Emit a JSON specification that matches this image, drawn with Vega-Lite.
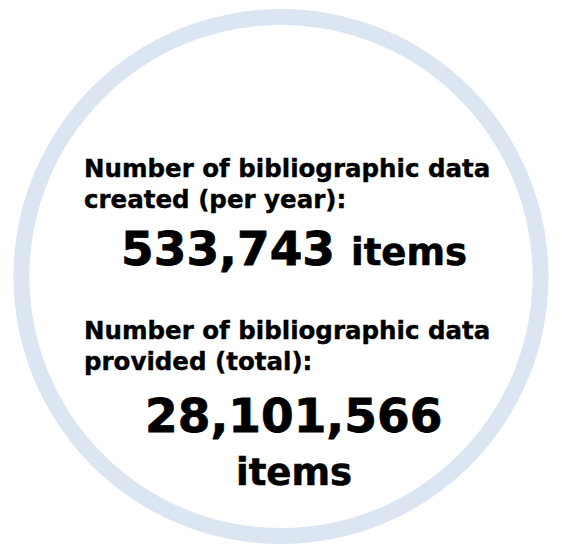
{
  "$schema": "https://vega.github.io/schema/vega-lite/v6.json",
  "width": 562,
  "height": 545,
  "autosize": {"type": "fit", "contains": "padding"},
  "padding": {"top": 8, "bottom": 0, "left": 0, "right": 0},
  "background": "white",
  "config": {"view": {"stroke": null}, "scale": {"pointPadding": 0}},
  "data": {
    "values": [
      {"metric": "created", "label": "Number of bibliographic data\ncreated (per year):", "value": 533743, "unit": "items"},
      {"metric": "provided", "label": "Number of bibliographic data\nprovided (total):", "value": 28101566, "unit": "items"}
    ]
  },
  "layer": [
    {
      "transform": [{"filter": "datum.metric === 'created'"}],
      "mark": {"type": "arc", "radius": 267.5, "radius2": 251.5, "color": "#dce6f2"},
      "encoding": {"theta": {"datum": 1, "type": "quantitative", "scale": {"domain": [0, 1]}}}
    },
    {
      "mark": {"type": "text", "font": "DejaVu Sans", "fontWeight": "bold", "fontSize": 24.5, "align": "left", "baseline": "alphabetic", "lineBreak": "\n", "lineHeight": 31, "color": "black", "stroke": "black", "strokeWidth": 0.4},
      "encoding": {
        "text": {"field": "label"},
        "x": {"field": "metric", "type": "nominal", "scale": {"type": "point", "padding": 0, "domain": ["created", "provided"], "range": [84, 84]}, "axis": null},
        "y": {"field": "metric", "type": "nominal", "scale": {"type": "point", "padding": 0, "domain": ["created", "provided"], "range": [169, 331]}, "axis": null}
      }
    },
    {
      "mark": {"type": "text", "font": "DejaVu Sans", "fontWeight": "bold", "fontSize": 47, "align": "left", "baseline": "alphabetic", "color": "black", "stroke": "black", "strokeWidth": 0.8},
      "encoding": {
        "text": {"field": "value", "type": "quantitative", "format": ","},
        "x": {"field": "metric", "type": "nominal", "scale": {"type": "point", "padding": 0, "domain": ["created", "provided"], "range": [121, 145]}, "axis": null},
        "y": {"field": "metric", "type": "nominal", "scale": {"type": "point", "padding": 0, "domain": ["created", "provided"], "range": [257, 424]}, "axis": null}
      }
    },
    {
      "mark": {"type": "text", "font": "DejaVu Sans", "fontWeight": "bold", "fontSize": 37, "align": "left", "baseline": "alphabetic", "color": "black", "stroke": "black", "strokeWidth": 0.6},
      "encoding": {
        "text": {"field": "unit"},
        "x": {"field": "metric", "type": "nominal", "scale": {"type": "point", "padding": 0, "domain": ["created", "provided"], "range": [351, 236]}, "axis": null},
        "y": {"field": "metric", "type": "nominal", "scale": {"type": "point", "padding": 0, "domain": ["created", "provided"], "range": [257, 477]}, "axis": null}
      }
    }
  ],
  "resolve": {"scale": {"x": "independent", "y": "independent"}}
}
